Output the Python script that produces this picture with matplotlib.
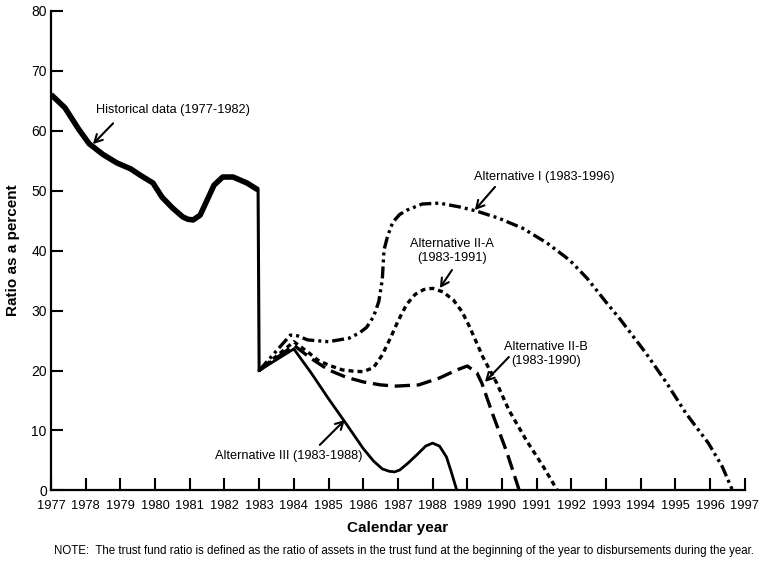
import numpy as np
from matplotlib import pyplot as plt

plt.rcParams['font.family'] = ['Liberation Sans', 'DejaVu Sans']

# Historisk data (1977-1983), avlest frå figuren
hist_x = [1977.0, 1977.4, 1977.8, 1978.1, 1978.5, 1978.9, 1979.3, 1979.56, 1979.94, 1980.2,
          1980.5, 1980.8, 1980.95, 1981.1, 1981.3, 1981.5, 1981.7, 1981.95, 1982.25, 1982.65,
          1982.97]
hist_y = [66.0, 63.8, 60.2, 57.8, 56.0, 54.6, 53.6, 52.6, 51.25, 48.9,
          47.1, 45.6, 45.2, 45.1, 45.9, 48.4, 50.9, 52.25, 52.25, 51.25,
          50.1]

# Alternativ III (1983-1988)
alt3_x = [1983.0, 1984.0, 1984.5, 1985.0, 1985.5, 1986.0, 1986.3, 1986.55, 1986.75, 1986.9,
          1987.05, 1987.3, 1987.6, 1987.8, 1988.0, 1988.2, 1988.4, 1988.55, 1988.7]
alt3_y = [20.0, 23.6, 19.6, 15.3, 11.2, 7.0, 4.9, 3.6, 3.2, 3.1,
          3.4, 4.6, 6.25, 7.4, 7.9, 7.4, 5.6, 2.9, 0.0]

# Alternativ II-B (1983-1990)
alt2b_x = [1983.0, 1984.0, 1984.5, 1985.0, 1985.5, 1986.0, 1986.5, 1986.95, 1987.6, 1988.2,
           1988.7, 1989.0, 1989.28, 1989.42, 1989.74, 1990.14, 1990.5]
alt2b_y = [20.0, 24.2, 22.0, 20.1, 18.9, 18.1, 17.6, 17.4, 17.6, 18.75,
           20.1, 20.75, 19.6, 17.9, 12.6, 6.4, 0.0]

# Alternativ II-A (1983-1991)
alt2a_x = [1983.0, 1984.0, 1984.4, 1984.7, 1985.0, 1985.4, 1985.7, 1986.0, 1986.3, 1986.55,
           1986.8, 1987.0, 1987.25, 1987.5, 1987.75, 1988.0, 1988.3, 1988.6, 1988.85, 1989.07,
           1989.45, 1989.85, 1990.2, 1990.7, 1991.2, 1991.6]
alt2a_y = [20.0, 24.8, 23.1, 21.7, 20.9, 20.1, 19.9, 19.8, 20.5, 22.6,
           25.6, 28.2, 31.0, 32.7, 33.5, 33.7, 33.1, 31.75, 29.8, 27.25,
           22.25, 17.9, 13.4, 8.4, 3.9, 0.0]

# Alternativ I (1983-1996)
alt1_x = [1983.0, 1983.9, 1984.1, 1984.4, 1985.0, 1985.6, 1985.9, 1986.1, 1986.3, 1986.45,
          1986.55, 1986.6, 1986.7, 1986.85, 1987.05, 1987.25, 1987.7, 1988.2, 1988.79, 1989.25,
          1989.9, 1990.6, 1991.3, 1991.95, 1992.45, 1993.0, 1993.4, 1994.15, 1994.75, 1995.3,
          1995.95, 1996.35, 1996.65]
alt1_y = [20.0, 25.9, 25.8, 25.1, 24.8, 25.4, 26.3, 27.2, 29.0, 31.5,
          35.1, 40.1, 42.3, 44.7, 46.0, 46.7, 47.75, 47.9, 47.25, 46.6,
          45.4, 43.7, 41.25, 38.4, 35.4, 31.4, 28.6, 22.9, 17.9, 12.9,
          7.9, 4.0, 0.0]

aar = np.arange(1977, 1998)

fig = plt.figure(figsize=(7.67, 5.66), dpi=100)
ax = fig.add_axes([0.0665, 0.1334, 0.9045, 0.848])

# Historisk kurve og fallet i 1983
ax.plot(hist_x, hist_y, 'k-', linewidth=4.0, solid_capstyle='butt', solid_joinstyle='round')
ax.plot([hist_x[-1], alt3_x[0]], [hist_y[-1], alt3_y[0]], 'k-', linewidth=2.2)

# Framskrivingane
ax.plot(alt3_x, alt3_y, 'k-', linewidth=2.0, solid_joinstyle='round')
ax.plot(alt2b_x, alt2b_y, color='k', linewidth=2.4, dashes=(4.6, 2.0))
ax.plot(alt2a_x, alt2a_y, color='k', linewidth=2.4, dashes=(1.5, 1.2))
ax.plot(alt1_x, alt1_y, color='k', linewidth=2.4, dashes=(3.6, 1.2, 0.9, 1.2, 0.9, 1.2))

# Merknader med piler
pil = dict(arrowstyle='->,head_length=0.55,head_width=0.3', color='k', linewidth=1.5,
           shrinkA=0, shrinkB=0)
tfs = 9.2
ax.text(1978.3, 63.4, 'Historical data (1977-1982)', fontsize=tfs, ha='left', va='center')
ax.annotate('', xy=(1978.21, 57.75), xytext=(1978.79, 61.2), arrowprops=pil)

ax.text(1989.19, 52.25, 'Alternative I (1983-1996)', fontsize=tfs, ha='left', va='center')
ax.annotate('', xy=(1989.22, 46.75), xytext=(1989.8, 50.6), arrowprops=pil)

ax.text(1988.56, 39.9, 'Alternative II-A\n(1983-1991)', fontsize=tfs, ha='center', va='center',
        linespacing=1.15)
ax.annotate('', xy=(1988.21, 33.75), xytext=(1988.56, 36.75), arrowprops=pil)

ax.text(1991.26, 22.75, 'Alternative II-B\n(1983-1990)', fontsize=tfs, ha='center', va='center',
        linespacing=1.15)
ax.annotate('', xy=(1989.51, 18.1), xytext=(1990.2, 22.25), arrowprops=pil)

ax.text(1981.73, 5.75, 'Alternative III (1983-1988)', fontsize=tfs, ha='left', va='center')
ax.annotate('', xy=(1985.47, 11.75), xytext=(1984.75, 7.6), arrowprops=pil)

# Aksar
ax.set_xlim(1977, 1997)
ax.set_ylim(0, 80)
ax.set_xticks(aar)
ax.set_xticklabels([str(a) for a in aar])
ax.set_yticks(np.arange(0, 81, 10))
ax.tick_params(direction='in', length=8.8, width=1.5)
ax.tick_params(axis='x', labelsize=9.3, pad=7)
ax.tick_params(axis='y', labelsize=10, pad=3)
for side in ['top', 'right']:
    ax.spines[side].set_visible(False)
for side in ['left', 'bottom']:
    ax.spines[side].set_linewidth(1.6)

ax.set_xlabel('Calendar year', fontsize=11, fontweight='bold', labelpad=6)
ax.set_ylabel('Ratio as a percent', fontsize=11, fontweight='bold', labelpad=8)

fig.text(0.527, 0.026, 'NOTE:  The trust fund ratio is defined as the ratio of assets in the trust fund '
         'at the beginning of the year to disbursements during the year.',
         fontsize=8.3, ha='center', va='center')

fig.savefig('out.png', dpi=100)
